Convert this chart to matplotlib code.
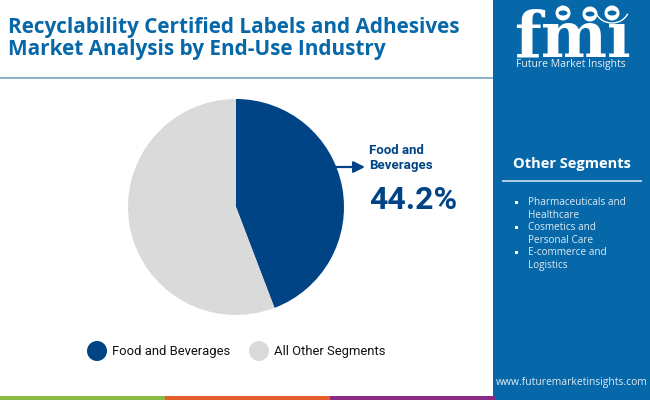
import matplotlib
matplotlib.use("Agg")
import matplotlib.pyplot as plt
from matplotlib.patches import Rectangle, Circle, Ellipse, Arc

labels = ["Food and Beverages", "All Other Segments"]
shares = [44.2, 55.8]
colors = ["#004485", "#DADADA"]
title_lines = ["Recyclability Certified Labels and Adhesives", "Market Analysis by End-Use Industry"]
other_segments = ["Pharmaceuticals and\nHealthcare", "Cosmetics and\nPersonal Care", "E-commerce and\nLogistics"]
strip_colors = ["#8CBB44", "#E45D2B", "#8A2C85"]

BLUE = "#0768A9"

fig = plt.figure(figsize=(6.5, 4), dpi=100, facecolor="white")

# overlay in pixel coordinates, y going down
bg = fig.add_axes([0, 0, 1, 1])
bg.set_xlim(0, 650)
bg.set_ylim(400, 0)
bg.axis("off")

# header
for y, line in zip([33, 55], title_lines):
    bg.text(8, y, line, family="Open Sans", weight="bold", fontsize=14.95, color=BLUE, va="baseline")
bg.add_patch(Rectangle((0, 77), 493, 1.5, color="#8DB2CB", lw=0))

# right panel
bg.add_patch(Rectangle((493, 0), 157, 400, color=BLUE, lw=0))
bg.text(572, 164, "Other Segments", family="Open Sans", weight="bold", fontsize=10.5, color="white", ha="center", va="center")
bg.add_patch(Rectangle((502, 180), 140, 1.5, color="#A9CBE3", lw=0))
for y, item in zip([202, 227, 252], other_segments):
    bg.add_patch(Rectangle((515, y - 1.5), 3, 3, color="white", lw=0))
    bg.text(528, y + 7, item, family="Open Sans", fontsize=7.2, color="#DCEBF5", va="center", linespacing=1.3)
bg.text(572, 383, "www.futuremarketinsights.com", family="Open Sans", fontsize=7.35, color="#DCEBF5", ha="center", va="center")

# logo
bg.text(572, 56, "fmı", family="DejaVu Serif", weight="bold", fontsize=45, color="white", ha="center", va="baseline")
for y in range(14, 58, 4):
    bg.add_patch(Rectangle((510, y), 125, 1, color=BLUE, lw=0))
for x, y in zip([563, 590, 612], [13, 14, 13]):
    bg.add_patch(Circle((x, y), 7.5, color="white", lw=0))
    bg.add_patch(Ellipse((x, y), 9, 5, color=BLUE, lw=0))
bg.add_patch(Arc((612, 8), 34, 30, theta1=20, theta2=160, color="white", lw=1))
bg.text(571, 64.5, "Future Market Insights", family="Open Sans", fontsize=7.5, color="#E6F0F7", ha="center", va="center")

# bottom strip
for i, c in enumerate(strip_colors):
    bg.add_patch(Rectangle((165 * i, 396), 165, 4, color=c, lw=0))

# pie, center 236,207 radius 108
ax = fig.add_axes([(236 - 108) / 650, 1 - (207 + 108) / 400, 216 / 650, 216 / 400])
ax.pie(shares, colors=colors, startangle=90, counterclock=False, radius=1)
ax.set_xlim(-1, 1)
ax.set_ylim(-1, 1)

# callout
bg.annotate("", xy=(365, 167), xytext=(336, 167),
            arrowprops=dict(arrowstyle="-|>", color=colors[0], lw=1.6, mutation_scale=17, shrinkA=0, shrinkB=0))
bg.text(369, 158, "Food and\nBeverages", family="Roboto", weight="bold", fontsize=9.5, color=colors[0], va="center", linespacing=1.25)
bg.text(369, 200, "44.2%", family="Roboto", weight="bold", fontsize=23, color=colors[0], va="center")

# legend
for x, name, c in zip([97, 259], labels, colors):
    bg.add_patch(Circle((x, 351), 10, color=c, lw=0))
    bg.text(x + 15, 351, name, family="Roboto", fontsize=9.4, color="#111111", va="center")

fig.savefig("out.png", dpi=100)
